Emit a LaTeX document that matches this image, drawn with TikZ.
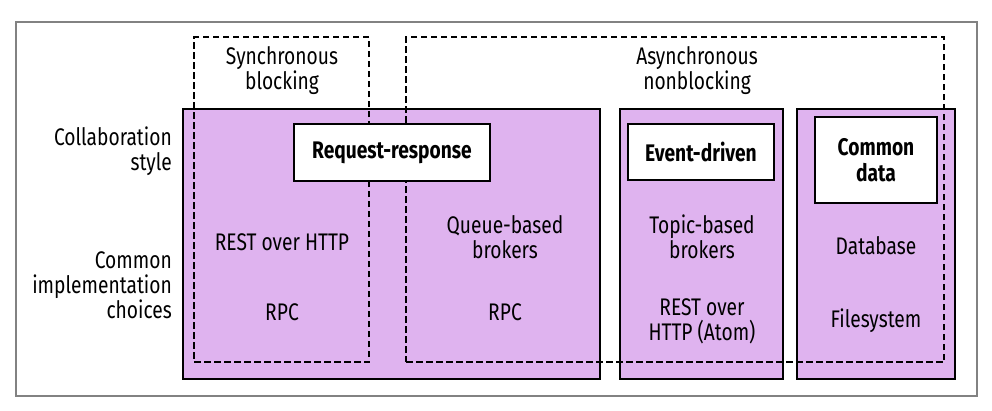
\documentclass[tikz,border=0pt]{standalone}
\usepackage{fontspec}
\setmainfont[FakeStretch=0.80]{Fira Sans}
\definecolor{lav}{RGB}{223,179,239}
\definecolor{framegray}{RGB}{130,130,130}
\tikzset{
  purplebox/.style={draw=black, line width=2.6pt, fill=lav, inner sep=0pt},
  titlebox/.style={draw=black, line width=2.6pt, fill=white, inner sep=0pt, align=center, font=\fontsize{24}{26}\selectfont\bfseries},
  dashbox/.style={draw=black, line width=1.1pt, dash pattern=on 6.5pt off 3.5pt, inner sep=0pt},
  lbl/.style={align=center, inner sep=0pt, font=\fontsize{24}{25}\selectfont},
  rlbl/.style={align=right, inner sep=0pt, anchor=east, font=\fontsize{24}{25}\selectfont},
}
\begin{document}
\begin{tikzpicture}[x=1pt,y=-1pt]
\useasboundingbox (0,0) rectangle (992,410);
\node[draw=framegray, line width=1.3pt, minimum width=961pt, minimum height=374pt, inner sep=0pt] (frame) at (496.5,209) {};
% purple boxes
\node[purplebox, minimum width=417pt, minimum height=270pt] (rrbox) at (391.5,244) {};
\node[purplebox, minimum width=163pt, minimum height=270pt] (edbox) at (701.5,244) {};
\node[purplebox, minimum width=158pt, minimum height=270pt] (cdbox) at (876,244) {};
% dashed boxes
\node[dashbox, minimum width=175pt, minimum height=325pt] (sync) at (281.5,199.5) {};
\node[dashbox, minimum width=538pt, minimum height=325pt] (async) at (675,199.5) {};
% title boxes
\node[titlebox, minimum width=196pt, minimum height=57pt] (rr) at (392,152.5) {Request-response};
\node[titlebox, minimum width=146pt, minimum height=56pt] (ed) at (701,152) {Event-driven};
\node[titlebox, minimum width=122pt, minimum height=86pt] (cd) at (876,160) {Common\\data};
% headings
\node[lbl] (synct) at (282,71) {Synchronous\\blocking};
\node[lbl] (asynct) at (697,71) {Asynchronous\\nonblocking};
% row labels
\node[rlbl] (collab) at (172,151) {Collaboration\\style};
\node[rlbl] (impl) at (172,285) {Common\\implementation\\choices};
% contents
\node[lbl] (rest1) at (282,242) {REST over HTTP};
\node[lbl] (rpc1) at (282,312) {RPC};
\node[lbl] (queue) at (505,237) {Queue-based\\brokers};
\node[lbl] (rpc2) at (505,312) {RPC};
\node[lbl] (topic) at (702,237) {Topic-based\\brokers};
\node[lbl] (rest2) at (702,321) {REST over\\HTTP (Atom)};
\node[lbl] (db) at (876,246) {Database};
\node[lbl] (fs) at (876,321) {Filesystem};
\end{tikzpicture}
\end{document}
